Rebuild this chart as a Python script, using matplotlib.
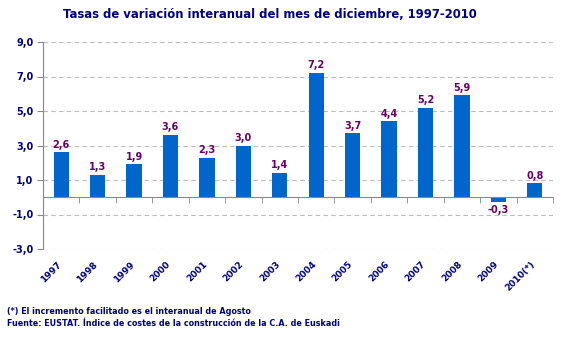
import matplotlib
matplotlib.use("Agg")
import matplotlib.pyplot as plt
import numpy as np

years = ["1997", "1998", "1999", "2000", "2001", "2002", "2003", "2004",
         "2005", "2006", "2007", "2008", "2009", "2010(*)"]
values = [2.6, 1.3, 1.9, 3.6, 2.3, 3.0, 1.4, 7.2, 3.7, 4.4, 5.2, 5.9, -0.3, 0.8]
yticks = [-3, -1, 1, 3, 5, 7, 9]

navy = "#000080"
bar_c = "#0066CC"
lab_c = "#660066"
grid_c = "#BBBBBB"

plt.rcParams['font.family'] = ['DejaVu Sans']
fig = plt.figure(figsize=(5.68, 3.48), dpi=100)
ax = fig.add_axes([43/568, 1-249/348, 510/568, 207/348])

x = np.arange(len(years))
ax.bar(x, values, width=0.42, color=bar_c, zorder=3)
for xi, v in zip(x, values):
    s = f"{v:.1f}".replace(".", ",")
    if v >= 0:
        ax.annotate(s, (xi, v), xytext=(0, 2), textcoords="offset points",
                    ha="center", va="bottom", fontsize=7, fontweight="bold", color=lab_c)
    else:
        ax.annotate(s, (xi, v), xytext=(0, -2), textcoords="offset points",
                    ha="center", va="top", fontsize=7, fontweight="bold", color=lab_c)

ax.set_xlim(-0.5, len(years) - 0.5)
ax.set_ylim(-3, 9)
ax.set_yticks(yticks)
ax.set_yticklabels([f"{t:.1f}".replace(".", ",") for t in yticks],
                   fontsize=7, fontweight="bold", color=navy)
ax.yaxis.grid(True, linestyle=(0, (4, 3)), color=grid_c, linewidth=0.8)
ax.set_axisbelow(True)

for s in ["top", "right"]:
    ax.spines[s].set_visible(False)
ax.spines["left"].set_color("#888888")
ax.spines["bottom"].set_color("#888888")
ax.spines["bottom"].set_position(("data", 0))
ax.spines["bottom"].set_zorder(4)
ax.tick_params(axis="y", length=4, color="#888888", pad=3)

ax.set_xticks(x - 0.12)
ax.set_xticklabels(years, rotation=45, ha="right", rotation_mode="anchor",
                   fontsize=6.5, fontweight="bold", color=navy)
ax.tick_params(axis="x", which="major", length=0, pad=45)
ax.set_xticks(np.arange(len(years) + 1) - 0.5, minor=True)
ax.tick_params(axis="x", which="minor", length=4, color="#888888")

fig.text(270/568, 1-14/348, "Tasas de variación interanual del mes de diciembre, 1997-2010",
         ha="center", va="center", fontsize=8.4, fontweight="bold", color=navy)
fig.text(7/568, 1-311/348, "(*) El incremento facilitado es el interanual de Agosto",
         ha="left", va="center", fontsize=5.8, fontweight="bold", color=navy)
fig.text(7/568, 1-323/348, "Fuente: EUSTAT. Índice de costes de la construcción de la C.A. de Euskadi",
         ha="left", va="center", fontsize=5.8, fontweight="bold", color=navy)

fig.savefig("out.png", dpi=100)
